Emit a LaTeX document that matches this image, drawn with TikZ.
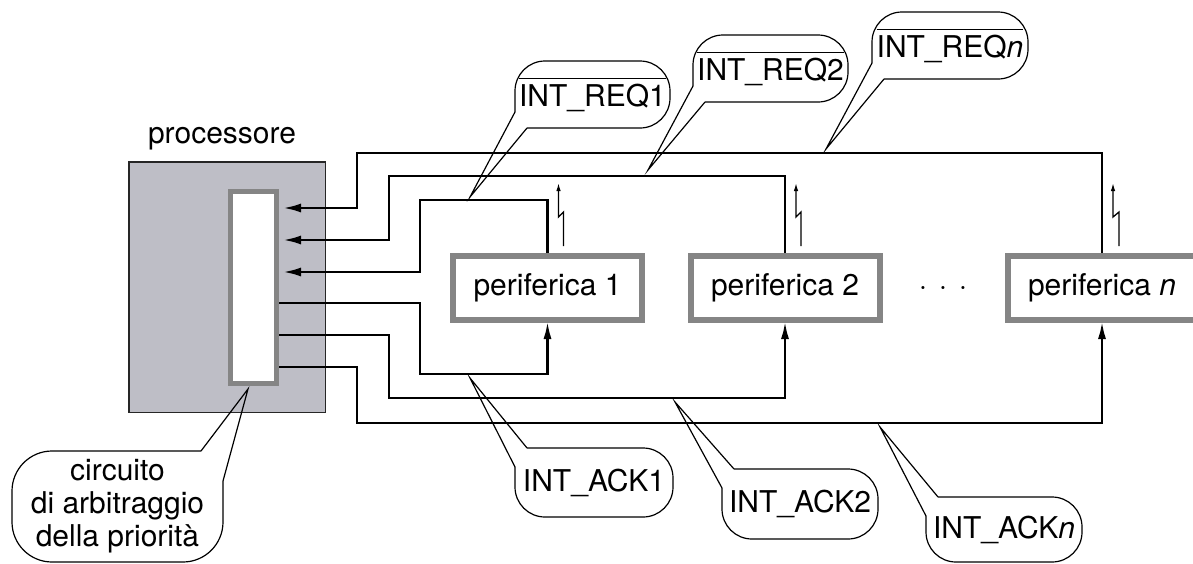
\documentclass[tikz,border=0pt]{standalone}
\usepackage{fontspec}
\setmainfont{TeX Gyre Heros}
\usetikzlibrary{arrows.meta,calc}
\newcommand\ovl[1]{\vbox{\hrule height 1.1pt\kern 5pt\hbox{#1}}}
\definecolor{procfill}{HTML}{BEBEC6}
\definecolor{boxgray}{HTML}{858585}
\begin{document}
\begin{tikzpicture}[x=1pt,y=-1pt,
  font=\fontsize{30}{33}\selectfont,
  bus/.style={line width=2.6pt,draw=black},
  arrL/.style={-{Latex[length=18pt,width=9pt]},shorten >=4pt},
  arrU/.style={-{Latex[length=18pt,width=8pt]},shorten >=-2pt},
  zap/.style={line width=1.3pt,-{Latex[length=8pt,width=4.5pt]}},
  periph/.style={draw=boxgray,fill=white,line width=6pt,minimum width=189pt,minimum height=64pt,inner sep=0pt},
  btext/.style={inner sep=0pt,outer sep=0pt},
  bub/.style={line width=1.2pt,rounded corners=30pt},
  ptr/.style={line width=1.2pt,line join=miter}]
\useasboundingbox (0,0) rectangle (1193,563);

% processor
\node[draw=black!85,fill=procfill,line width=1.5pt,minimum width=196.5pt,minimum height=250.5pt,inner sep=0pt] (proc) at (227,287) {};
\node[anchor=base] (plabel) at (222,143) {processore};
\node[draw=boxgray,fill=white,line width=5pt,minimum width=46pt,minimum height=192pt,inner sep=0pt] (arb) at (253.5,287.5) {};

% peripherals
\node[periph] (p1) at (547.5,288) {periferica 1};
\node[periph] (p2) at (785,288) {periferica 2};
\node[periph] (pn) at (1102,288) {periferica \textit{n}};
\node[anchor=base,inner sep=0pt] (dots) at (943,295) {\textperiodcentered\hspace{11.7pt}\textperiodcentered\hspace{11.7pt}\textperiodcentered};

% request lines
\draw[bus,arrL] (pn.north) |- (357,153) |- (arb.east |- 0,208);
\draw[bus,arrL] (p2.north) |- (389,176) |- (arb.east |- 0,240);
\draw[bus,arrL] (p1.north) |- (420,200) |- (arb.east |- 0,272);

% acknowledge lines
\draw[bus,arrU] (arb.east |- 0,303) -| (420,374) -| (p1.south);
\draw[bus,arrU] (arb.east |- 0,335) -| (389,398) -| (p2.south);
\draw[bus,arrU] (arb.east |- 0,367) -| (357,423) -| (pn.south);

% interrupt symbols
\draw[zap] ($(p1.north)+(16,-7)$) -- ++(0,-34) -- ++(-5,5) -- ++(0,-34);
\draw[zap] ($(p2.north)+(16,-7)$) -- ++(0,-34) -- ++(-5,5) -- ++(0,-34);
\draw[zap] ($(pn.north)+(17,-7)$) -- ++(0,-34) -- ++(-6,5) -- ++(0,-34);

% callout tips
\coordinate (t1) at (470,197);
\coordinate (t2) at (648,170);
\coordinate (tn) at (826,149);
\coordinate (ta1) at (470,378);
\coordinate (ta2) at (675,402);
\coordinate (tan) at (880,427);
\coordinate (tc) at (248,389);

% request callouts
\node[btext,minimum width=155pt,minimum height=67pt] (r1) at (592.5,94.5) {\ovl{INT\_REQ1}};
\node[btext,minimum width=155pt,minimum height=67pt] (r2) at (770.5,68.5) {\ovl{INT\_REQ2}};
\node[btext,minimum width=156pt,minimum height=67pt] (rn) at (950,45.5) {\ovl{INT\_REQ\textit{n}}};
\foreach \b/\t in {r1/t1,r2/t2,rn/tn}{
  \draw[bub] ($(\b.south west)+(0,-16)$) -- (\b.north west) -- (\b.north east) -- (\b.south east) -- ($(\b.south west)+(12,0)$);
  \draw[ptr] ($(\b.south west)+(0,-16)$) -- (\t) -- ($(\b.south west)+(12,0)$);
}

% acknowledge callouts
\node[btext,minimum width=158pt,minimum height=69pt] (a1) at (594,482.5) {INT\_ACK1};
\node[btext,minimum width=156pt,minimum height=70pt] (a2) at (800,504) {INT\_ACK2};
\node[btext,minimum width=156pt,minimum height=65pt] (an) at (1004,529.5) {INT\_ACK\textit{n}};
\foreach \b/\t in {a1/ta1,a2/ta2,an/tan}{
  \draw[bub] ($(\b.north west)+(0,19)$) -- (\b.south west) -- (\b.south east) -- (\b.north east) -- ($(\b.north west)+(12,0)$);
  \draw[ptr] ($(\b.north west)+(0,19)$) -- (\t) -- ($(\b.north west)+(12,0)$);
}

% arbitration callout
\node[btext,align=center,minimum width=211pt,minimum height=111pt] (circ) at (117.5,506.5) {circuito\\di arbitraggio\\della priorità};
\draw[bub,rounded corners=40pt] ($(circ.north east)+(-22,0)$) -- (circ.north west) -- (circ.south west) -- (circ.south east) -- ($(circ.north east)+(0,30)$);
\draw[ptr] ($(circ.north east)+(-22,0)$) -- (tc) -- ($(circ.north east)+(0,30)$);
\end{tikzpicture}
\end{document}
